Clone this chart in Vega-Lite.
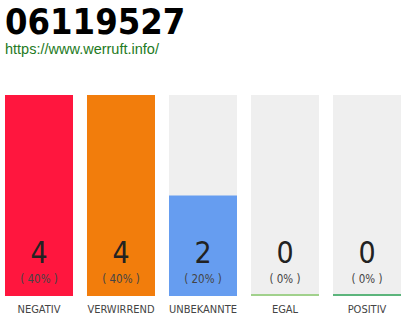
{
  "$schema": "https://vega.github.io/schema/vega-lite/v6.json",
  "width": 396,
  "height": 201,
  "autosize": {"type": "none"},
  "padding": {"left": 5, "top": 95, "right": 9, "bottom": 24},
  "background": "white",
  "title": {
    "text": "06119527",
    "subtitle": "https://www.werruft.info/",
    "anchor": "start",
    "frame": "group",
    "font": "DejaVu Sans Condensed, sans-serif",
    "fontSize": 36,
    "fontWeight": "bold",
    "color": "#000000",
    "subtitleFont": "Liberation Sans, Arial, sans-serif",
    "subtitleFontSize": 14.5,
    "subtitleColor": "#237a23",
    "subtitlePadding": 1,
    "offset": 38
  },
  "data": {
    "values": [
      {"category": "NEGATIV", "count": 4, "percent": 40},
      {"category": "VERWIRREND", "count": 4, "percent": 40},
      {"category": "UNBEKANNTE", "count": 2, "percent": 20},
      {"category": "EGAL", "count": 0, "percent": 0},
      {"category": "POSITIV", "count": 0, "percent": 0}
    ]
  },
  "transform": [
    {"joinaggregate": [{"op": "max", "field": "count", "as": "maxCount"}]},
    {"calculate": "'( ' + datum.percent + '% )'", "as": "percentLabel"}
  ],
  "encoding": {
    "x": {
      "field": "category",
      "type": "nominal",
      "sort": null,
      "scale": {"paddingInner": 0.1707, "paddingOuter": 0},
      "axis": {
        "title": null,
        "domain": false,
        "ticks": false,
        "tickSize": 0,
        "labelPadding": 7,
        "labelAngle": 0,
        "labelFont": "DejaVu Sans Condensed, sans-serif",
        "labelFontSize": 11,
        "labelColor": "#444444"
      }
    }
  },
  "layer": [
    {
      "mark": {"type": "bar", "color": "#efefef"},
      "encoding": {
        "y": {
          "field": "maxCount",
          "type": "quantitative",
          "scale": {"domain": [0, 4], "nice": false},
          "axis": null
        }
      }
    },
    {
      "mark": {"type": "tick", "orient": "horizontal", "thickness": 2, "size": 68, "yOffset": -1},
      "encoding": {
        "y": {"datum": 0, "type": "quantitative"},
        "color": {
          "field": "category",
          "type": "nominal",
          "scale": {
            "domain": ["NEGATIV", "VERWIRREND", "UNBEKANNTE", "EGAL", "POSITIV"],
            "range": ["#ff163e", "#f27d0c", "#669df0", "#80c463", "#1e9c4b"]
          },
          "legend": null
        }
      }
    },
    {
      "mark": {"type": "bar"},
      "encoding": {
        "y": {"field": "count", "type": "quantitative"},
        "color": {"field": "category", "type": "nominal", "legend": null}
      }
    },
    {
      "mark": {
        "type": "text",
        "baseline": "alphabetic",
        "dy": -33,
        "font": "DejaVu Sans Condensed, sans-serif",
        "fontSize": 30,
        "color": "#222222"
      },
      "encoding": {
        "y": {"datum": 0, "type": "quantitative"},
        "text": {"field": "count", "type": "quantitative"}
      }
    },
    {
      "mark": {
        "type": "text",
        "baseline": "alphabetic",
        "dy": -13.5,
        "font": "DejaVu Sans Condensed, sans-serif",
        "fontSize": 11.5,
        "color": "#444444"
      },
      "encoding": {
        "y": {"datum": 0, "type": "quantitative"},
        "text": {"field": "percentLabel", "type": "nominal"}
      }
    }
  ],
  "config": {"view": {"stroke": null}}
}
